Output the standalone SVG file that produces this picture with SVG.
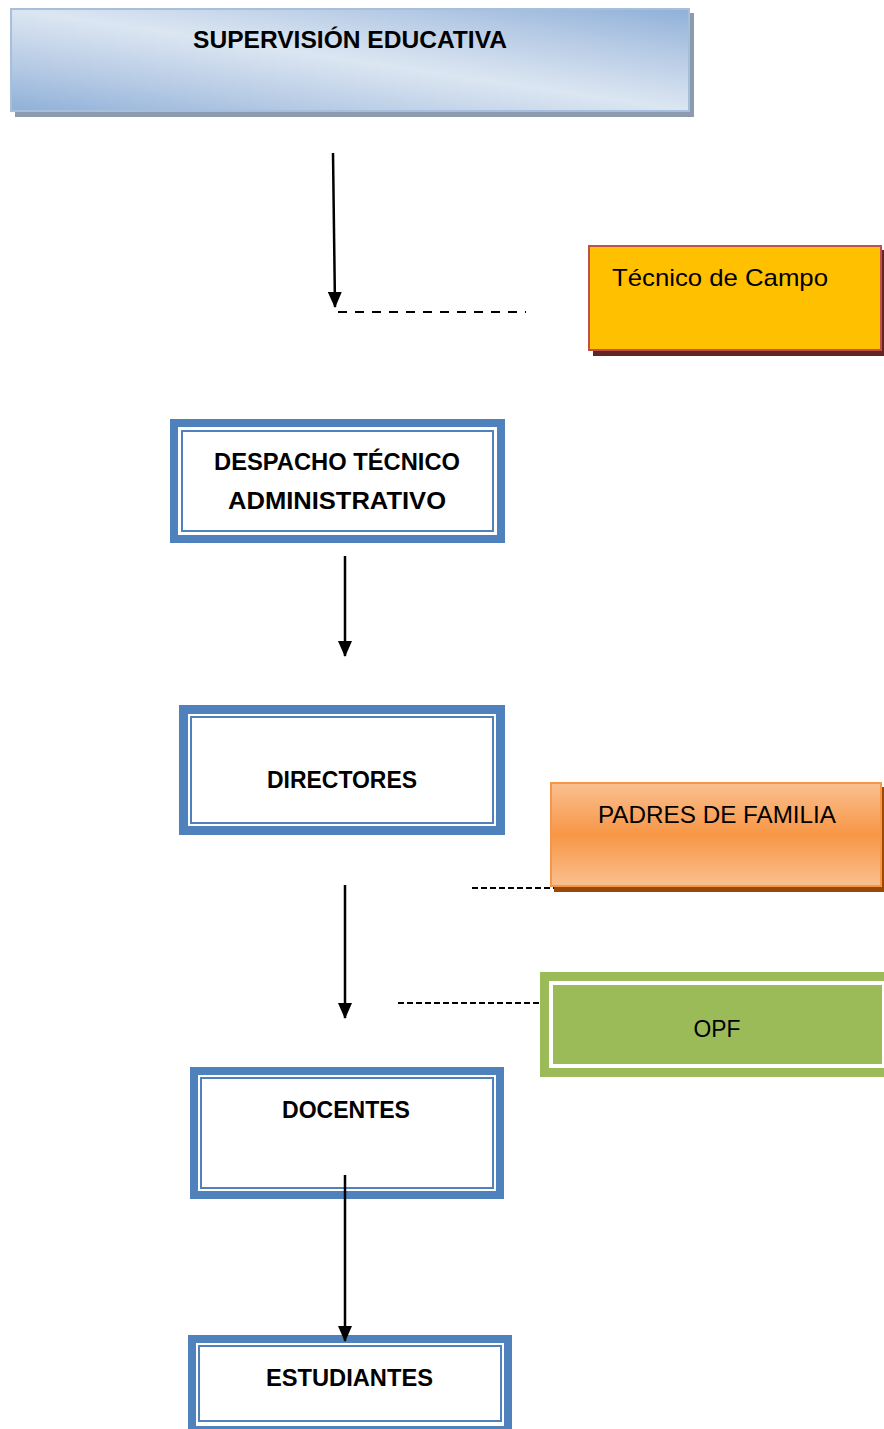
<svg xmlns="http://www.w3.org/2000/svg" width="884" height="1429" viewBox="0 0 884 1429">
<defs>
<linearGradient id="gSup" x1="0" y1="1" x2="1" y2="0">
<stop offset="0" stop-color="#8fb0d8"/>
<stop offset="0.22" stop-color="#b4c9e4"/>
<stop offset="0.5" stop-color="#dce6f2"/>
<stop offset="0.78" stop-color="#b4c9e4"/>
<stop offset="1" stop-color="#8fb0d8"/>
</linearGradient>
<linearGradient id="gPad" x1="0" y1="0" x2="0" y2="1">
<stop offset="0" stop-color="#fac090"/>
<stop offset="0.5" stop-color="#f79646"/>
<stop offset="1" stop-color="#fac090"/>
</linearGradient>
<marker id="arr" viewBox="0 0 16 14" refX="15" refY="7" markerWidth="16" markerHeight="14" markerUnits="userSpaceOnUse" orient="auto">
<path d="M0,0 L16,7 L0,14 Z" fill="#000"/>
</marker>
</defs>
<style>
.t{font-family:"Liberation Sans",Arial,sans-serif;fill:#000;text-anchor:middle}
.b{font-weight:bold;font-size:24px}
.r{font-size:24px}
.thick{fill:#4f81bd}
.gap{fill:#fff}
.thin{fill:#fff;stroke:#4f81bd;stroke-width:2}
.arrow{stroke:#000;stroke-width:2.5;fill:none}
.dash{stroke:#000;stroke-width:2;fill:none}
</style>
<rect width="884" height="1429" fill="#fff"/>

<g id="supervision">
<rect x="15" y="13" width="679" height="104" fill="#8d9bb1"/>
<rect x="11" y="9" width="678" height="102" fill="url(#gSup)" stroke="#a7bfdc" stroke-width="2"/>
<text class="t b" x="350" y="48" textLength="314" lengthAdjust="spacingAndGlyphs">SUPERVISIÓN EDUCATIVA</text>
</g>

<g id="tecnico">
<rect x="593" y="250" width="291" height="106" fill="#632523"/>
<rect x="589" y="246" width="292" height="104" fill="#ffc000" stroke="#c0504d" stroke-width="2"/>
<text class="t r" x="720" y="286" textLength="216" lengthAdjust="spacingAndGlyphs">Técnico de Campo</text>
</g>

<g id="despacho">
<rect class="thick" x="170" y="419" width="335" height="124"/>
<rect class="gap" x="178" y="427" width="319" height="108"/>
<rect class="thin" x="182" y="431" width="311" height="100"/>
<text class="t b" x="337" y="470" textLength="246" lengthAdjust="spacingAndGlyphs">DESPACHO TÉCNICO</text>
<text class="t b" x="337" y="509" textLength="218" lengthAdjust="spacingAndGlyphs">ADMINISTRATIVO</text>
</g>

<g id="directores">
<rect class="thick" x="179" y="705" width="326" height="130"/>
<rect class="gap" x="188" y="714" width="308" height="112"/>
<rect class="thin" x="191" y="717" width="302" height="106"/>
<text class="t b" x="342" y="788" textLength="150" lengthAdjust="spacingAndGlyphs">DIRECTORES</text>
</g>

<g id="padres">
<rect x="554" y="787" width="332" height="105" fill="#984807"/>
<rect x="551" y="783" width="330" height="103" fill="url(#gPad)" stroke="#f79646" stroke-width="2"/>
<text class="t r" x="717" y="823" textLength="238" lengthAdjust="spacingAndGlyphs">PADRES DE FAMILIA</text>
</g>

<g id="opf">
<rect x="540" y="972" width="354" height="105" fill="#9bbb59"/>
<rect x="549" y="981" width="336" height="87" fill="#fff"/>
<rect x="553" y="985" width="329" height="79" fill="#9bbb59"/>
<text class="t r" x="717" y="1037" textLength="47" lengthAdjust="spacingAndGlyphs">OPF</text>
</g>

<g id="docentes">
<rect class="thick" x="190" y="1067" width="314" height="132"/>
<rect class="gap" x="198" y="1075" width="298" height="116"/>
<rect class="thin" x="201" y="1078" width="292" height="110"/>
<text class="t b" x="346" y="1118" textLength="128" lengthAdjust="spacingAndGlyphs">DOCENTES</text>
</g>

<g id="estudiantes">
<rect class="thick" x="188" y="1335" width="324" height="100"/>
<rect class="gap" x="196" y="1343" width="308" height="83"/>
<rect class="thin" x="199" y="1346" width="302" height="75"/>
<text class="t b" x="349.5" y="1386" textLength="167" lengthAdjust="spacingAndGlyphs">ESTUDIANTES</text>
</g>

<g id="connectors">
<line class="arrow" x1="333" y1="153" x2="335" y2="307" marker-end="url(#arr)"/>
<line class="dash" x1="338" y1="312" x2="526" y2="312" stroke-dasharray="9 8"/>
<line class="arrow" x1="345" y1="556" x2="345" y2="656" marker-end="url(#arr)"/>
<line class="arrow" x1="345" y1="885" x2="345" y2="1018" marker-end="url(#arr)"/>
<line class="dash" x1="472" y1="888" x2="554" y2="888" stroke-dasharray="6 3"/>
<line class="dash" x1="398" y1="1003" x2="540" y2="1003" stroke-dasharray="6 3"/>
<line class="arrow" x1="345" y1="1175" x2="345" y2="1341" marker-end="url(#arr)"/>
</g>
</svg>
